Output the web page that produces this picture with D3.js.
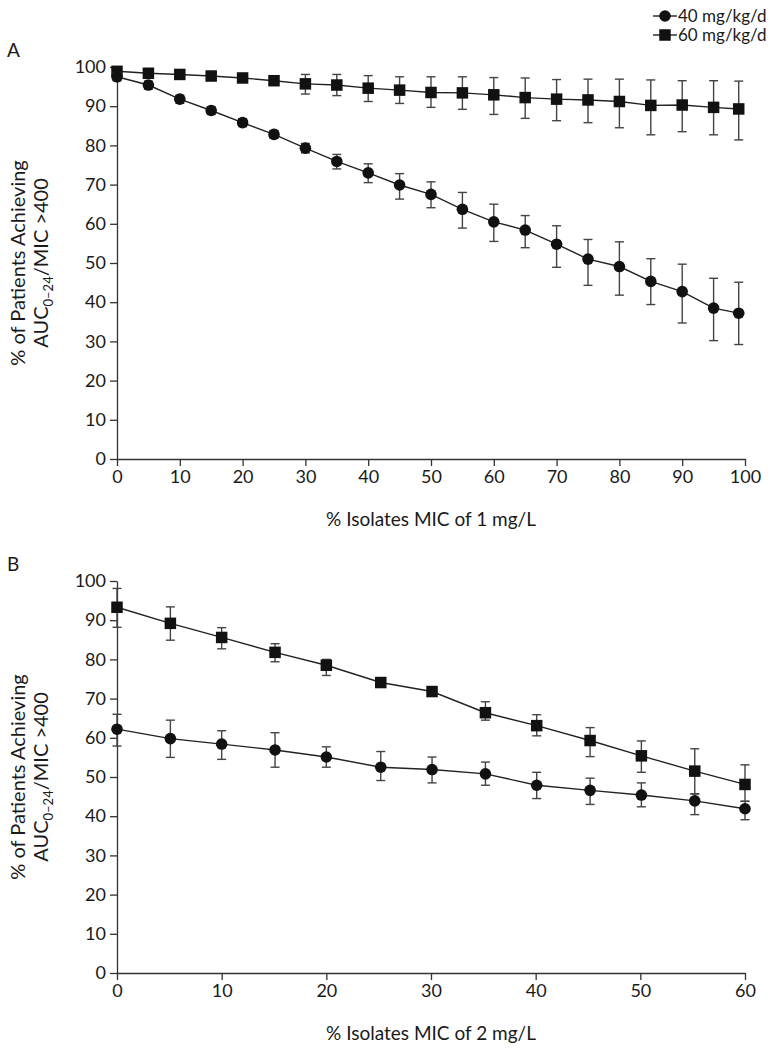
<!DOCTYPE html>
<html><head><meta charset="utf-8">
<script src="https://cdn.jsdelivr.net/npm/d3@7"></script>
<style>
body{margin:0;background:#fff;}
text{font-family:Lato,"Open Sans",sans-serif;fill:#1a1a1a;}
</style></head><body>
<script>
// ---- Data ----
const seriesNames = ["40 mg/kg/d", "60 mg/kg/d"];

// Panel A: % isolates MIC of 1 mg/L
const xA = [0,5,10,15,20,25,30,35,40,45,50,55,60,65,70,75,80,85,90,95,99];
const a40 = [97.5,95.4,91.8,88.9,85.8,82.8,79.3,75.9,73.0,69.9,67.5,63.7,60.5,58.4,54.8,51.0,49.1,45.3,42.7,38.5,37.2];
const a40Hi = [98.5,96.4,92.8,89.9,86.8,83.8,80.5,77.7,75.3,72.8,70.7,68.0,65.0,62.1,59.5,56.0,55.4,51.1,49.7,46.1,45.1];
const a40Lo = [96.5,94.4,90.8,87.9,84.8,81.8,78.1,74.0,70.5,66.3,64.1,58.9,55.5,53.9,48.9,44.3,41.8,39.4,34.7,30.2,29.2];
const a60 = [98.9,98.4,98.1,97.7,97.2,96.5,95.7,95.4,94.6,94.1,93.5,93.4,92.9,92.2,91.8,91.6,91.2,90.2,90.3,89.7,89.3];
const a60Hi = [99.5,99.0,98.7,98.3,97.8,97.2,98.1,98.1,97.8,97.5,97.5,97.5,97.3,97.2,96.8,96.9,96.9,96.7,96.5,96.5,96.4];
const a60Lo = [98.3,97.8,97.5,97.1,96.6,95.8,93.1,92.7,91.2,90.7,89.7,89.2,87.9,86.9,86.3,85.8,84.5,82.7,83.5,82.7,81.4];
const xTicksA = [0,10,20,30,40,50,60,70,80,90,100];

// Panel B: % isolates MIC of 2 mg/L
const xB = [0,5.1,10,15.1,20,25.2,30.1,35.2,40.1,45.2,50.1,55.2,60];
const b40 = [62.2,59.8,58.4,56.9,55.1,52.5,51.9,50.8,47.9,46.6,45.4,43.9,41.9];
const b40Hi = [66.0,64.5,61.8,61.3,57.7,56.5,55.1,53.8,51.2,49.7,48.5,45.7,43.8];
const b40Lo = [57.9,55.0,54.5,52.5,52.5,49.1,48.5,47.9,44.5,43.0,42.4,40.4,39.1];
const b60 = [93.3,89.2,85.6,81.8,78.5,74.1,71.8,66.4,63.1,59.3,55.4,51.5,48.1];
const b60Hi = [98.1,93.4,88.1,84.0,80.0,74.8,72.9,69.2,65.9,62.6,59.2,57.2,53.1];
const b60Lo = [88.2,84.9,82.7,79.4,75.9,73.4,70.8,64.5,60.5,55.2,51.2,45.7,43.8];
const xTicksB = [0,10,20,30,40,50,60];

const yTicks = [0,10,20,30,40,50,60,70,80,90,100];

// ---- Drawing ----
const W = 774, H = 1050;
const svg = d3.select("body").append("svg").attr("width", W).attr("height", H);

const markerR = 5.8, sq = 11.5, capW = 8;

function panel(opt) {
  const x = d3.scaleLinear().domain([0, opt.xMax]).range([117, 745]);
  const y = d3.scaleLinear().domain([0, 100]).range([opt.bottom, opt.bottom - 392]);
  const g = svg.append("g");

  // Axes
  const yAx = g.append("g").attr("transform", `translate(${x(0)},0)`)
    .call(d3.axisLeft(y).tickValues(yTicks).tickSize(7).tickSizeOuter(0).tickPadding(4));
  const xAx = g.append("g").attr("transform", `translate(0,${y(0)})`)
    .call(d3.axisBottom(x).tickValues(opt.xTicks).tickSize(7).tickSizeOuter(0).tickPadding(4));
  [yAx, xAx].forEach(a => {
    a.selectAll("path,line").attr("stroke", "#333").attr("stroke-width", 1.3);
    a.selectAll("text").style("font-size", "18px").attr("fill", "#1a1a1a");
  });

  // series
  opt.series.forEach(s => {
    const pts = opt.xs.map((xv, i) => ({x: xv, y: s.v[i], lo: s.lo[i], hi: s.hi[i]}));
    // error bars
    const eb = g.append("g").attr("stroke", "#444").attr("stroke-width", 1.4);
    pts.forEach(p => {
      eb.append("line").attr("x1", x(p.x)).attr("x2", x(p.x)).attr("y1", y(p.lo)).attr("y2", y(p.hi));
      eb.append("line").attr("x1", x(p.x) - capW/2 - 0.5).attr("x2", x(p.x) + capW/2 + 0.5).attr("y1", y(p.lo)).attr("y2", y(p.lo));
      eb.append("line").attr("x1", x(p.x) - capW/2 - 0.5).attr("x2", x(p.x) + capW/2 + 0.5).attr("y1", y(p.hi)).attr("y2", y(p.hi));
    });
    // line
    g.append("path").datum(pts)
      .attr("d", d3.line().x(d => x(d.x)).y(d => y(d.y)))
      .attr("fill", "none").attr("stroke", "#222").attr("stroke-width", 1.4);
    // markers
    if (s.shape === "circle") {
      g.selectAll(null).data(pts).enter().append("circle")
        .attr("cx", d => x(d.x)).attr("cy", d => y(d.y)).attr("r", markerR).attr("fill", "#111");
    } else {
      g.selectAll(null).data(pts).enter().append("rect")
        .attr("x", d => x(d.x) - sq/2).attr("y", d => y(d.y) - sq/2)
        .attr("width", sq).attr("height", sq).attr("fill", "#111");
    }
  });

  // panel letter
  svg.append("text").attr("x", 7).attr("y", opt.bottom - 402).style("font-size", "19px").text(opt.letter);

  // y title
  const cy = y(50);
  svg.append("text").attr("transform", `translate(25,${cy}) rotate(-90)`)
    .attr("text-anchor", "middle").style("font-size", "20px").text("% of Patients Achieving");
  const t2 = svg.append("text").attr("transform", `translate(48,${cy}) rotate(-90)`)
    .attr("text-anchor", "middle").style("font-size", "20px");
  t2.append("tspan").text("AUC");
  t2.append("tspan").attr("dy", 5).style("font-size", "13px").text("0–24");
  t2.append("tspan").attr("dy", -5).text("/MIC >400");

  // x title
  svg.append("text").attr("x", 431).attr("y", opt.bottom + 67)
    .attr("text-anchor", "middle").style("font-size", "19px").text(opt.xTitle);
}

panel({letter: "A", xMax: 100, xTicks: xTicksA, xs: xA, bottom: 459,
  xTitle: "% Isolates MIC of 1 mg/L",
  series: [
    {shape: "square", v: a60, lo: a60Lo, hi: a60Hi},
    {shape: "circle", v: a40, lo: a40Lo, hi: a40Hi}
  ]});

panel({letter: "B", xMax: 60, xTicks: xTicksB, xs: xB, bottom: 973,
  xTitle: "% Isolates MIC of 2 mg/L",
  series: [
    {shape: "square", v: b60, lo: b60Lo, hi: b60Hi},
    {shape: "circle", v: b40, lo: b40Lo, hi: b40Hi}
  ]});

// legend
const leg = svg.append("g");
seriesNames.forEach((name, i) => {
  const ly = 16 + i * 19;
  leg.append("line").attr("x1", 653).attr("x2", 677).attr("y1", ly).attr("y2", ly)
    .attr("stroke", "#222").attr("stroke-width", 1.4);
  if (i === 0) leg.append("circle").attr("cx", 665).attr("cy", ly).attr("r", 5.8).attr("fill", "#111");
  else leg.append("rect").attr("x", 665 - 5.75).attr("y", ly - 5.75).attr("width", 11.5).attr("height", 11.5).attr("fill", "#111");
  leg.append("text").attr("x", 678).attr("y", ly + 6).style("font-size", "17px").text(name);
});
</script>
</body></html>
